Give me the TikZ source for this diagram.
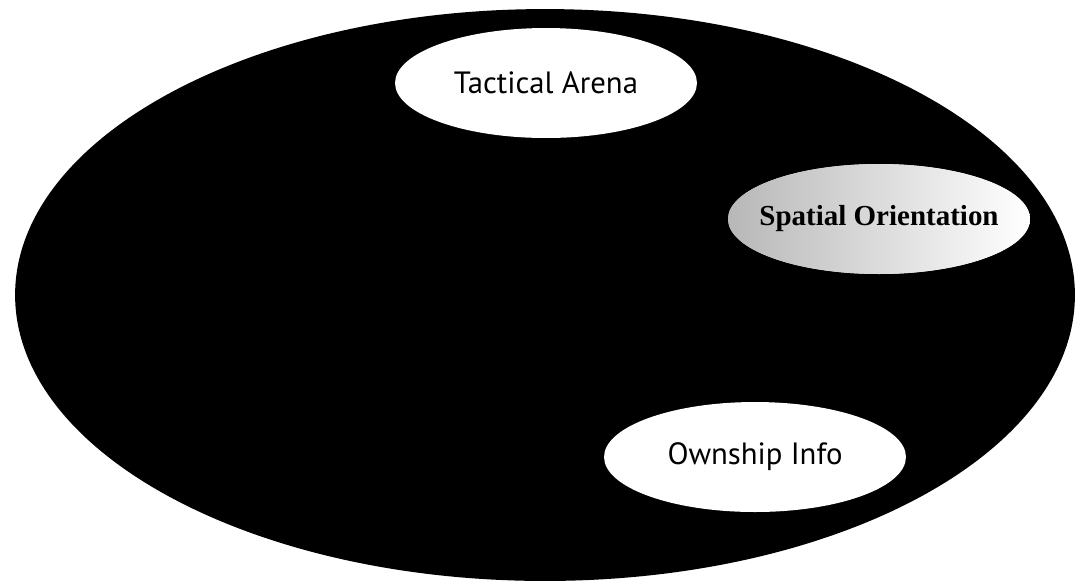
\documentclass[tikz,border=0pt]{standalone}
\usepackage{fontspec}
\setmainfont{PT Sans}
\newfontfamily\boldserif{Liberation Serif}
\usetikzlibrary{shapes.geometric}

\begin{document}
\begin{tikzpicture}[
          x=0.02cm,y=-0.02cm,
          field/.style={ellipse,fill=black,inner sep=0pt,
            minimum width=21.2cm,minimum height=11.44cm},
          zone/.style={ellipse,fill=white,inner ysep=0pt,inner xsep=-8pt,
            minimum width=6.04cm,minimum height=2.2cm,font=\fontsize{17.5}{19}\selectfont},
          hilite/.style={zone,left color=black!28,right color=white,
            font=\boldserif\bfseries\fontsize{16.5}{19}\selectfont}
        ]
        \path[use as bounding box,fill=white] (0,0) rectangle (1081,583);
        \node[field] (ops) at (545,295) {};

        \node[zone] (arena) at (546,83) {Tactical Arena};
        \node[hilite] (orient) at (879,219) {Spatial Orientation};
        \node[zone] (ownship) at (755,457) {Ownship Info};

      \end{tikzpicture}
\end{document}
